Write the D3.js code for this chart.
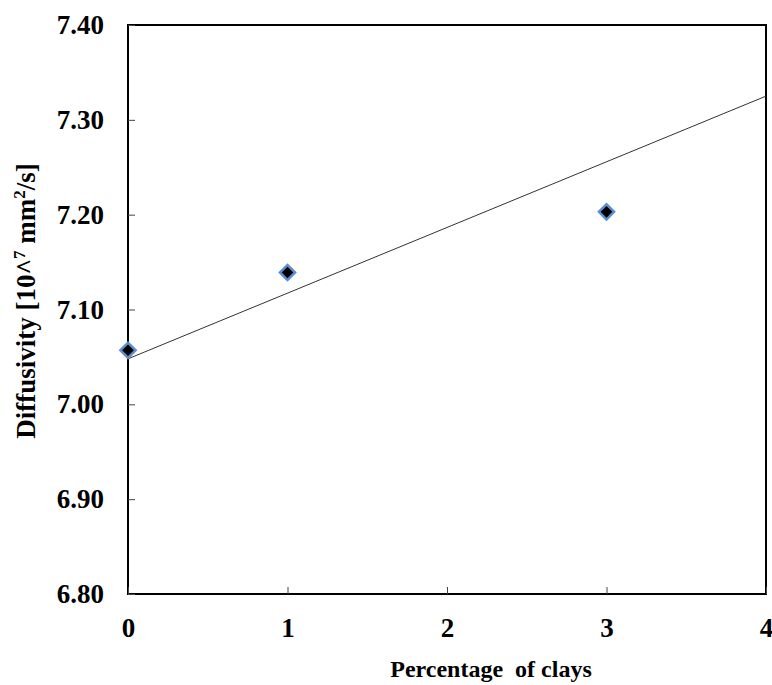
<!DOCTYPE html>
<html>
<head>
<meta charset="utf-8">
<script src="https://cdn.jsdelivr.net/npm/d3@7"></script>
<style>
  body { margin: 0; background: #fff; }
  svg text { font-family: "Liberation Serif", "Times New Roman", serif; font-weight: bold; }
</style>
</head>
<body>
<svg id="canvas"></svg>
<script>
// measured points
const clayPct = [0, 1, 3];
const diffusivity = [7.057, 7.139, 7.203];
// trend line as drawn in the source (end points)
const trendX = [0, 4];
const trendY = [7.048, 7.325];

const xTicks = [0, 1, 2, 3, 4];
const yTicks = [6.8, 6.9, 7.0, 7.1, 7.2, 7.3, 7.4];

const width = 772;
const height = 685;
const plotLeft = 128;
const plotRight = 766;
const plotTop = 25;
const plotBottom = 594;

const canvas = d3.select("#canvas").attr("width", width).attr("height", height);

const xScale = d3.scaleLinear().domain([0, 4]).range([plotLeft, plotRight]);
const yScale = d3.scaleLinear().domain([6.8, 7.4]).range([plotBottom, plotTop]);

// plot frame
canvas.append("rect")
  .attr("x", plotLeft).attr("y", plotTop)
  .attr("width", plotRight - plotLeft).attr("height", plotBottom - plotTop)
  .attr("fill", "none").attr("stroke", "#000").attr("stroke-width", 2);

// axes with inward ticks
const xAxis = d3.axisBottom(xScale).tickValues(xTicks).tickFormat(d3.format("d"))
  .tickSizeInner(-7).tickSizeOuter(0).tickPadding(24);
const yAxis = d3.axisLeft(yScale).tickValues(yTicks).tickFormat(d3.format(".2f"))
  .tickSizeInner(-7).tickSizeOuter(0).tickPadding(24);

const gx = canvas.append("g").attr("id", "x-axis")
  .attr("transform", `translate(0, ${plotBottom})`).call(xAxis);
const gy = canvas.append("g").attr("id", "y-axis")
  .attr("transform", `translate(${plotLeft}, 0)`).call(yAxis);

[gx, gy].forEach((g) => {
  g.select(".domain").remove();
  g.selectAll("line").attr("stroke", "#444").attr("stroke-width", 1);
  g.selectAll("text").attr("font-size", 27).attr("fill", "#000")
    .style("font-family", "'Liberation Serif', serif").style("font-weight", "bold");
});

// trend line
const line = d3.line().x((d) => xScale(d[0])).y((d) => yScale(d[1]));
canvas.append("path")
  .datum(trendX.map((x, i) => [x, trendY[i]]))
  .attr("d", line)
  .attr("fill", "none").attr("stroke", "#333").attr("stroke-width", 1);

// diamond markers
const diamond = d3.symbol().type(d3.symbolSquare).size(115);
canvas.selectAll(".pt")
  .data(clayPct.map((x, i) => [x, diffusivity[i]]))
  .enter().append("path")
  .attr("class", "pt")
  .attr("d", diamond)
  .attr("transform", (d) => `translate(${xScale(d[0])}, ${yScale(d[1])}) rotate(45)`)
  .attr("fill", "#000").attr("stroke", "#5b8fd0").attr("stroke-width", 2.5);

// axis titles
canvas.append("text")
  .attr("x", 491).attr("y", 677)
  .attr("text-anchor", "middle").attr("font-size", 24)
  .attr("xml:space", "preserve")
  .text("Percentage  of clays");

const yTitle = canvas.append("text")
  .attr("transform", "translate(35, 301) rotate(-90)")
  .attr("text-anchor", "middle").attr("font-size", 27);
yTitle.append("tspan").text("Diffusivity [10^");
yTitle.append("tspan").attr("font-size", 17).attr("dy", -10).text("7");
yTitle.append("tspan").attr("dy", 10).text(" mm");
yTitle.append("tspan").attr("font-size", 17).attr("dy", -10).text("2");
yTitle.append("tspan").attr("dy", 10).text("/s]");
</script>
</body>
</html>
